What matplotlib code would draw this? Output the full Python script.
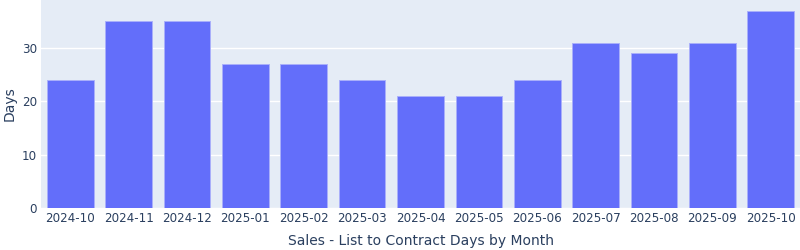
import matplotlib.pyplot as plt

# Data
months = ['2024-10', '2024-11', '2024-12', '2025-01', '2025-02', '2025-03', '2025-04',
          '2025-05', '2025-06', '2025-07', '2025-08', '2025-09', '2025-10']
days = [24, 35, 35, 27, 27, 24, 21, 21, 24, 31, 29, 31, 37]
y_ticks = [0, 10, 20, 30]

text_color = '#2a3f5f'
plt.rcParams['font.family'] = ['DejaVu Sans']

fig = plt.figure(figsize=(8, 2.5), dpi=100)
ax = fig.add_axes([41 / 800, 1 - 208 / 250, 759 / 800, 208 / 250])
ax.set_facecolor('#E5ECF6')

x = range(len(months))
ax.bar(x, days, width=0.8, color='#636EFA', edgecolor='#aab0fb', linewidth=0.7, zorder=2)

ax.set_xlim(-0.5, len(months) - 0.5)
ax.set_ylim(0, 39)
ax.set_yticks(y_ticks)
ax.set_xticks(list(x))
ax.set_xticklabels(months)
ax.grid(axis='y', color='white', linewidth=1, zorder=1)
ax.set_axisbelow(True)
for s in ax.spines.values():
    s.set_visible(False)
ax.tick_params(length=0, labelsize=8.6, labelcolor=text_color, pad=3)

ax.set_ylabel('Days', fontsize=10, color=text_color, va='center')
ax.yaxis.set_label_coords(-31 / 759, 0.5)
ax.set_xlabel('Sales - List to Contract Days by Month', fontsize=10, color=text_color, va='center')
ax.xaxis.set_label_coords(0.5, -33 / 208)

fig.savefig('out.png', dpi=100)
